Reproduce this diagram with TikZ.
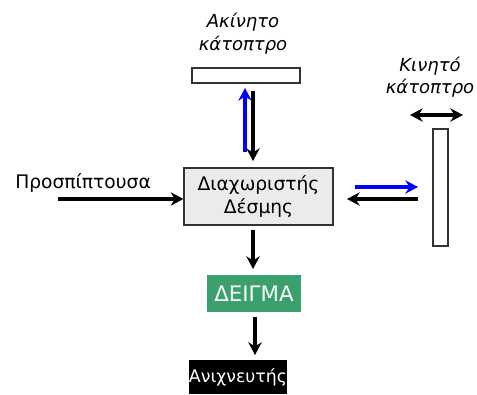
\documentclass[tikz,border=0pt]{standalone}
\usepackage{fontspec}
\setmainfont{DejaVu Sans}
\usetikzlibrary{arrows.meta}
\definecolor{bsgray}{RGB}{235,235,235}
\definecolor{samplegreen}{RGB}{58,160,110}
\begin{document}
\begin{tikzpicture}[x=0.75pt,y=-0.75pt,
  arr/.style={line width=2.4pt,-{Stealth[length=9.5pt,width=10pt]}},
  darr/.style={line width=2.4pt,{Stealth[length=9.5pt,width=10pt]}-{Stealth[length=9.5pt,width=10pt]}},
  mirror/.style={draw=black!80,line width=0.9pt,fill=white},
  lbl/.style={font=\fontsize{13.5pt}{17pt}\selectfont\itshape,align=center,inner sep=0pt},
  txt/.style={font=\fontsize{14pt}{17pt}\selectfont,align=center,inner sep=0pt}]
\useasboundingbox (0,0) rectangle (477,394);
% top mirror
\node[mirror,minimum width=108*0.75pt,minimum height=15*0.75pt,inner sep=0pt] (m1) at (246,75.5) {};
\node[lbl] (m1l) at (243,34) {Ακίνητο\\κάτοπτρο};
% right mirror
\node[mirror,minimum width=15*0.75pt,minimum height=117*0.75pt,inner sep=0pt] (m2) at (440.5,187.5) {};
\node[lbl] (m2l) at (430,77) {Κινητό\\κάτοπτρο};
\coordinate (dl) at (410,115);
\coordinate (dr) at (463,115);
\draw[darr] (dl) -- (dr);
% beam splitter
\node[draw=black!80,line width=0.9pt,fill=bsgray,minimum width=149*0.75pt,minimum height=57*0.75pt,txt] (bs) at (258.5,196.5) {Διαχωριστής\\Δέσμης};
% incident
\node[txt,anchor=west] (inc) at (15,183) {Προσπίπτουσα};
\coordinate (i0) at (58,199);
\draw[arr] (i0) -- (bs.west |- i0);
% top arrows
\coordinate (b1) at (245,152);
\coordinate (b1t) at (245,88);
\draw[arr,blue] (b1) -- (b1t);
\coordinate (k1) at (253,91);
\draw[arr] (k1) -- (253,161);
% right arrows
\coordinate (b2) at (355,187);
\coordinate (b2e) at (418,187);
\draw[arr,blue] (b2) -- (b2e);
\coordinate (k2) at (418,199);
\coordinate (k2e) at (347,199);
\draw[arr] (k2) -- (k2e);
% sample
\node[fill=samplegreen,text=white,minimum width=94*0.75pt,minimum height=37*0.75pt,txt,font=\fontsize{16pt}{19pt}\selectfont] (smp) at (254,293.5) {ΔΕΙΓΜΑ};
\draw[arr] (253,230) coordinate (s0) -- (253,269);
% detector
\node[fill=black,text=white,minimum width=96*0.75pt,minimum height=34*0.75pt,txt,font=\fontsize{13pt}{15pt}\selectfont,anchor=north] (det) at (238,360) {Ανιχνευτής};
\draw[arr] (255,317) coordinate (s1) -- (255,355);
\end{tikzpicture}
\end{document}
